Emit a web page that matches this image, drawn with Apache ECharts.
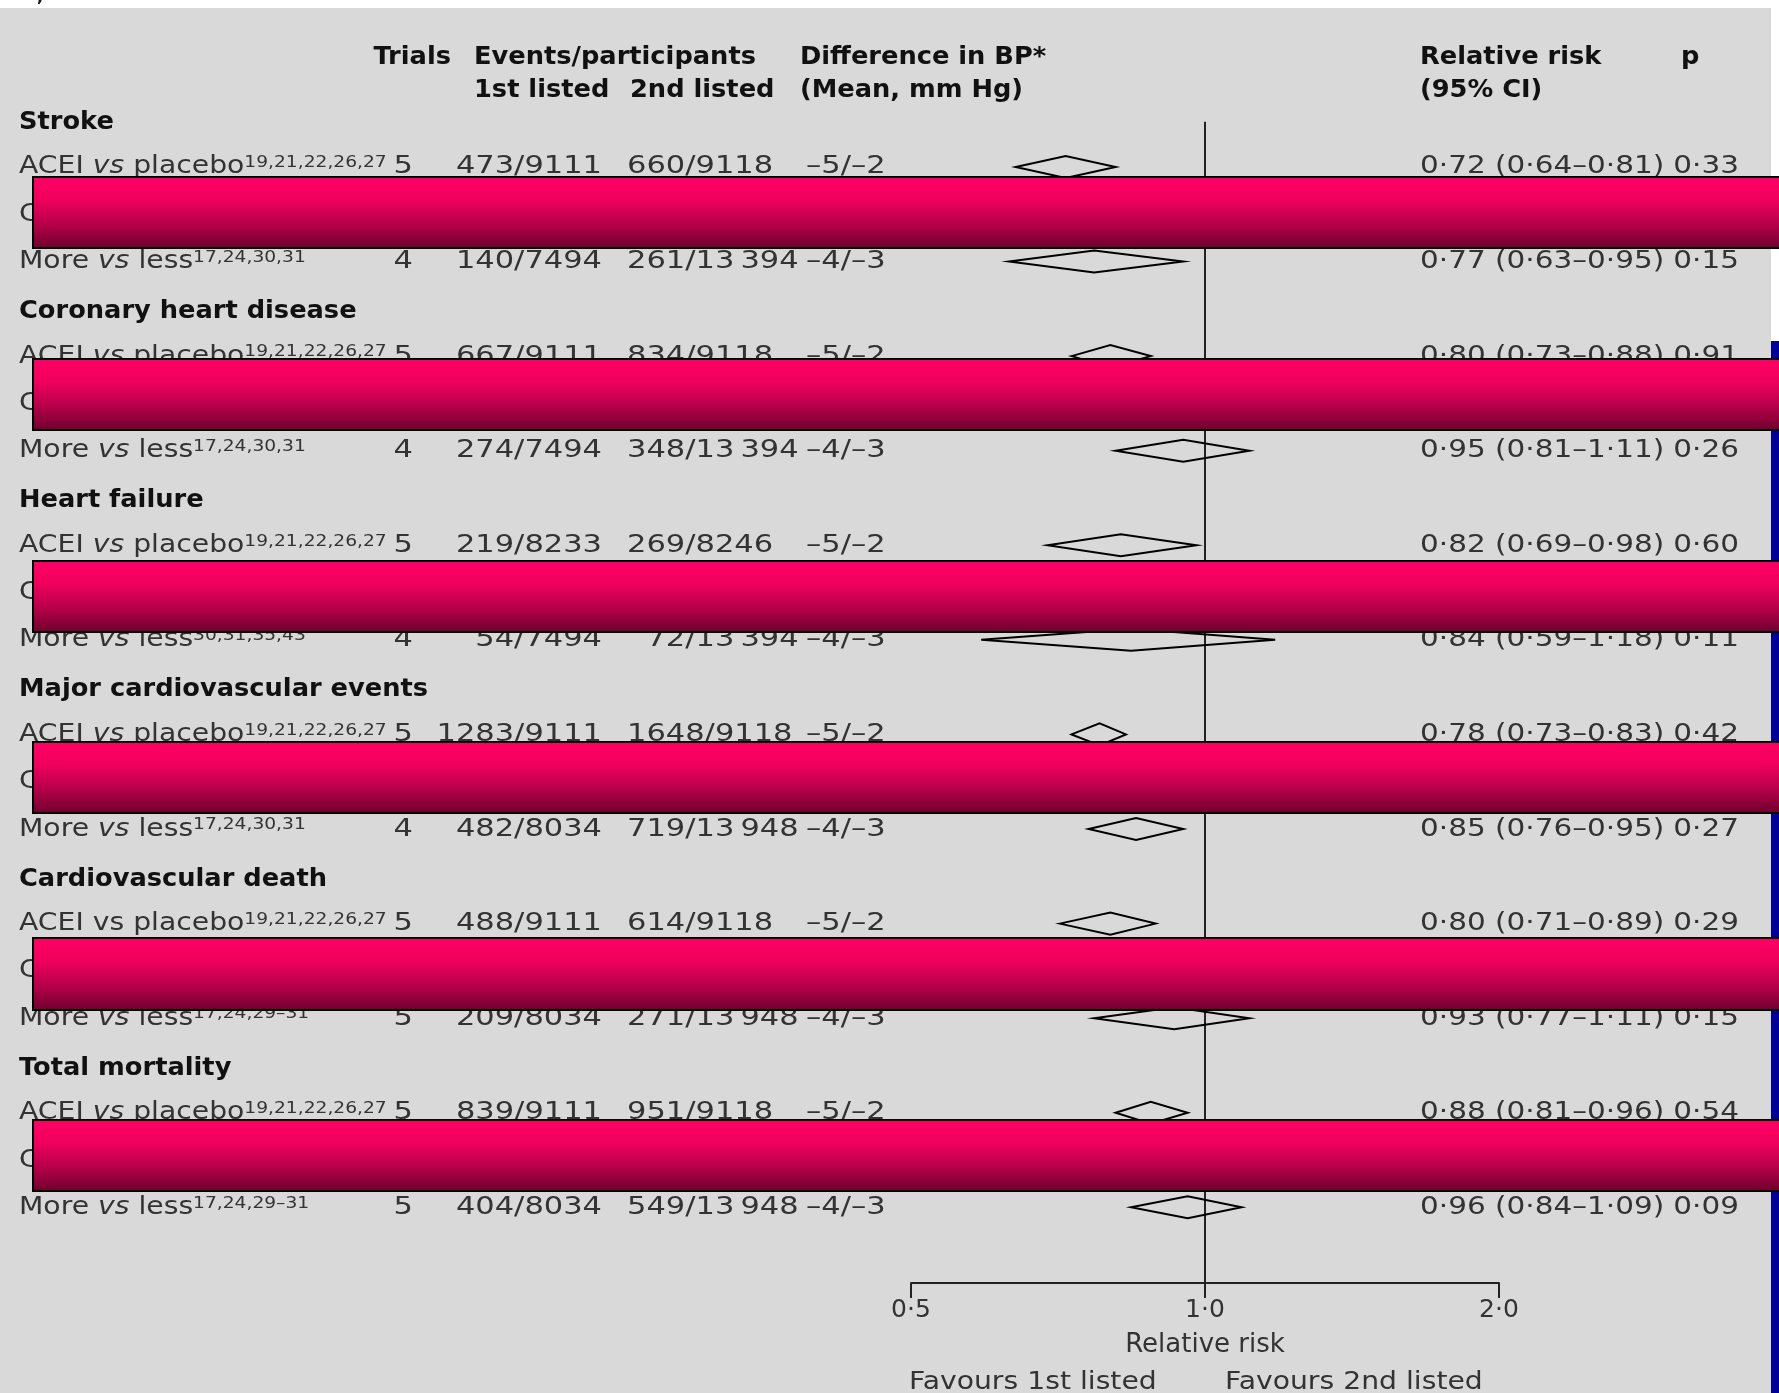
<!DOCTYPE html>
<html>
<head>
<meta charset="utf-8">
<script src="https://cdn.jsdelivr.net/npm/echarts@6/dist/echarts.min.js"></script>
<style>
html,body{margin:0;padding:0;background:#fff;}
#chart{width:1779px;height:1393px;}
</style>
</head>
<body>
<div id="chart"></div>
<script>
// ---------------- DATA ----------------
const outcomes = ['Stroke', 'Coronary heart disease', 'Heart failure', 'Major cardiovascular events', 'Cardiovascular death', 'Total mortality'];

const aceiLabel = ['ACEI', 'vs', ' placebo'];
const aceiVsItalic = [true, true, true, true, false, true];
const aceiRefs = ['19,21,22,26,27', '19,21,22,26,27', '19,21,22,26,27', '19,21,22,26,27', '19,21,22,26,27', '19,21,22,26,27'];
const aceiTrials = [5, 5, 5, 5, 5, 5];
const aceiEvents1 = ['473/9111', '667/9111', '219/8233', '1283/9111', '488/9111', '839/9111'];
const aceiEvents2 = ['660/9118', '834/9118', '269/8246', '1648/9118', '614/9118', '951/9118'];
const aceiBP = ['–5/–2', '–5/–2', '–5/–2', '–5/–2', '–5/–2', '–5/–2'];
const aceiRR = [0.72, 0.80, 0.82, 0.78, 0.80, 0.88];
const aceiLow = [0.64, 0.73, 0.69, 0.73, 0.71, 0.81];
const aceiHigh = [0.81, 0.88, 0.98, 0.83, 0.89, 0.96];
const aceiP = [0.33, 0.91, 0.60, 0.42, 0.29, 0.54];

const hiddenLabel = ['CA', 'vs', ' placebo'];

const moreLabel = ['More', 'vs', ' less'];
const moreRefs = ['17,24,30,31', '17,24,30,31', '30,31,35,43', '17,24,30,31', '17,24,29–31', '17,24,29–31'];
const moreTrials = [4, 4, 4, 4, 5, 5];
const moreEvents1 = ['140/7494', '274/7494', '54/7494', '482/8034', '209/8034', '404/8034'];
const moreEvents2 = ['261/13\u2009394', '348/13\u2009394', '\u200772/13\u2009394', '719/13\u2009948', '271/13\u2009948', '549/13\u2009948'];
const moreBP = ['–4/–3', '–4/–3', '–4/–3', '–4/–3', '–4/–3', '–4/–3'];
const moreRR = [0.77, 0.95, 0.84, 0.85, 0.93, 0.96];
const moreLow = [0.63, 0.81, 0.59, 0.76, 0.77, 0.84];
const moreHigh = [0.95, 1.11, 1.18, 0.95, 1.11, 1.09];
const moreP = [0.15, 0.26, 0.11, 0.27, 0.15, 0.09];

const headerLine1 = ['Trials', 'Events/participants', 'Difference in BP*', 'Relative risk', 'p'];
const headerLine2 = ['1st listed', '2nd listed', '(Mean, mm Hg)', '(95% CI)'];
const xTicks = [0.5, 1, 2];
const xAxisName = 'Relative risk';
const favours = ['Favours 1st listed', 'Favours 2nd listed'];

// ---------------- BUILD ROWS ----------------
const rows = [];
outcomes.forEach(function (o, g) {
  rows.push({ kind: 'head', label: o });
  rows.push({ kind: 'row', lab: aceiLabel, vsItalic: aceiVsItalic[g], refs: aceiRefs[g], trials: aceiTrials[g],
    ev1: aceiEvents1[g], ev2: aceiEvents2[g], bp: aceiBP[g], rr: aceiRR[g], lo: aceiLow[g], hi: aceiHigh[g], p: aceiP[g] });
  rows.push({ kind: 'hidden', lab: hiddenLabel, vsItalic: true, refs: '' });
  rows.push({ kind: 'row', lab: moreLabel, vsItalic: true, refs: moreRefs[g], trials: moreTrials[g],
    ev1: moreEvents1[g], ev2: moreEvents2[g], bp: moreBP[g], rr: moreRR[g], lo: moreLow[g], hi: moreHigh[g], p: moreP[g] });
});
const fmt = function (v) { return v.toFixed(2).replace('.', '·'); };
const tableData = rows.map(function (r, i) { return [1, i]; });
const diamondData = [];
rows.forEach(function (r, i) { if (r.rr) diamondData.push([r.rr, r.lo, r.hi, i]); });

// ---------------- LAYOUT / STYLE ----------------
const FONT = "'DejaVu Sans', sans-serif";
const TXT = '#333333';
const BOLD = '#111111';
const COL = { label: 19, trials: 413, ev1: 602, ev2: 627, bp: 806, ci: 1420, p: 1739 };
const SC = { label: 1.13, num: 1.22, ci: 1.18, bold: 1.07 };
const AXIS_OFFSET = 52;
const GRID = { left: 911, width: 588, top: 96, height: 1135 };

const RICH = {
  n: { fontSize: 25, lineHeight: 25, fontFamily: FONT, fill: TXT, color: TXT },
  i: { fontSize: 25, lineHeight: 25, fontFamily: FONT, fontStyle: 'italic', fill: TXT, color: TXT },
  s: { fontSize: 16.5, lineHeight: 17, fontFamily: FONT, fill: TXT, color: TXT, verticalAlign: 'top' }
};

function txt(x, y, text, align, scale, extra) {
  const st = { text: text, x: 0, y: 0, align: align, textAlign: align, verticalAlign: 'middle', textVerticalAlign: 'middle',
    fontSize: 25, fontFamily: FONT, fill: TXT };
  if (extra) Object.keys(extra).forEach(function (k) { st[k] = extra[k]; });
  return { type: 'text', x: x, y: y, scaleX: scale, style: st };
}

function richLabel(r) {
  let s = '{n|' + r.lab[0] + ' }{' + (r.vsItalic ? 'i' : 'n') + '|' + r.lab[1] + '}{n|' + r.lab[2] + '}';
  if (r.refs) s += '{s|' + r.refs + '}';
  return s;
}

function renderTable(params, api) {
  const idx = params.dataIndex;
  const r = rows[idx];
  const y = api.coord([1, idx])[1];
  const ch = [];
  if (r.kind === 'head') {
    ch.push(txt(COL.label, y + 3, r.label, 'left', SC.bold, { fontWeight: 'bold', fontSize: 24, fill: BOLD }));
  } else {
    ch.push({ type: 'text', x: COL.label, y: y, scaleX: SC.label,
      style: { text: richLabel(r), rich: RICH, x: 0, y: 0, align: 'left', textAlign: 'left', verticalAlign: 'middle', textVerticalAlign: 'middle',
        fontSize: 25, fontFamily: FONT, fill: TXT } });
    if (r.kind === 'row') {
      ch.push(txt(COL.trials, y, String(r.trials), 'right', SC.num));
      ch.push(txt(COL.ev1, y, r.ev1, 'right', SC.num));
      ch.push(txt(COL.ev2, y, r.ev2, 'left', SC.num));
      ch.push(txt(COL.bp, y, r.bp, 'left', SC.num));
      ch.push(txt(COL.ci, y, fmt(r.rr) + ' (' + fmt(r.lo) + '–' + fmt(r.hi) + ')', 'left', SC.ci));
      ch.push(txt(COL.p, y, fmt(r.p), 'right', SC.ci));
    }
  }
  return { type: 'group', children: ch };
}

function renderDiamond(params, api) {
  const row = api.value(3);
  const c = api.coord([api.value(0), row]);
  const l = api.coord([api.value(1), row]);
  const h = api.coord([api.value(2), row]);
  const hh = 11;
  return { type: 'polygon',
    shape: { points: [[l[0], c[1]], [c[0], c[1] - hh], [h[0], c[1]], [c[0], c[1] + hh]] },
    style: { fill: 'none', stroke: '#000', lineWidth: 2 } };
}

function renderRefLine(params, api) {
  const p = api.coord([api.value(0), api.value(1)]);
  const cs = params.coordSys;
  return { type: 'line', shape: { x1: p[0], y1: p[1] + 2, x2: p[0], y2: cs.y + cs.height + AXIS_OFFSET },
    style: { stroke: '#222', lineWidth: 2 } };
}

const pinkFill = { type: 'linear', x: 0, y: 0, x2: 0, y2: 1, colorStops: [
  { offset: 0, color: '#ff0066' }, { offset: 0.3, color: '#f2005d' }, { offset: 0.65, color: '#b8004a' }, { offset: 1, color: '#6c002c' } ] };
const redactBands = [[177, 248], [359, 430], [561, 632], [742, 813], [938, 1010], [1120, 1191]];

const graphics = [
  { type: 'rect', z: -100, silent: true, shape: { x: 0, y: 8, width: 1771, height: 1385 }, style: { fill: '#d9d9d9' } },
  { type: 'rect', z: -100, silent: true, shape: { x: 1771, y: 341, width: 8, height: 1052 }, style: { fill: '#000099' } },
  { type: 'text', z: 5, x: 37, y: -10, style: { text: ',', fontSize: 16, fontWeight: 'bold', fontFamily: FONT, fill: '#111' } }
];
function headerText(x, y, text, align) {
  graphics.push({ type: 'text', z: 5, x: x, y: y, scaleX: SC.bold,
    style: { text: text, x: 0, y: 0, align: align, textAlign: align, verticalAlign: 'middle', textVerticalAlign: 'middle',
      fontSize: 24, fontWeight: 'bold', fontFamily: FONT, fill: BOLD } });
}
const h1x = [[451, 'right'], [474, 'left'], [800, 'left'], [1420, 'left'], [1681, 'left']];
headerLine1.forEach(function (t, k) { headerText(h1x[k][0], 58, t, h1x[k][1]); });
const h2x = [474, 630, 800, 1420];
headerLine2.forEach(function (t, k) { headerText(h2x[k], 91, t, 'left'); });
const favX = [909, 1225];
favours.forEach(function (t, k) {
  graphics.push({ type: 'text', z: 5, x: favX[k], y: 1382, scaleX: SC.label,
    style: { text: t, x: 0, y: 0, align: 'left', textAlign: 'left', verticalAlign: 'middle', textVerticalAlign: 'middle',
      fontSize: 25, fontFamily: FONT, fill: TXT } });
});
redactBands.forEach(function (b) {
  graphics.push({ type: 'rect', z: 100, silent: true, shape: { x: 33, y: b[0], width: 1760, height: b[1] - b[0] },
    style: { fill: pinkFill, stroke: '#000', lineWidth: 2 } });
});

// ---------------- CHART ----------------
const chart = echarts.init(document.getElementById('chart'), null, { renderer: 'canvas' });
chart.setOption({
  backgroundColor: '#ffffff',
  animation: false,
  grid: { left: GRID.left, width: GRID.width, top: GRID.top, height: GRID.height, outerBoundsMode: 'none', containLabel: false },
  xAxis: {
    type: 'log', logBase: 2, min: xTicks[0], max: xTicks[xTicks.length - 1],
    position: 'bottom', offset: AXIS_OFFSET,
    axisLine: { show: true, lineStyle: { color: '#222', width: 2 } },
    axisTick: { show: true, inside: false, length: 15, lineStyle: { color: '#222', width: 2 } },
    axisLabel: { show: true, margin: 15, fontSize: 25, fontFamily: FONT, color: TXT,
      formatter: function (v) { return (Math.round(v * 10) / 10).toFixed(1).replace('.', '·'); } },
    splitLine: { show: false },
    minorTick: { show: false },
    name: xAxisName, nameLocation: 'middle', nameGap: 49,
    nameTextStyle: { fontSize: 26, fontFamily: FONT, color: TXT }
  },
  yAxis: {
    type: 'category', inverse: true, data: rows.map(function (r, i) { return r.label || (r.lab[0] + ' ' + r.lab[1] + r.lab[2]); }),
    show: false
  },
  graphic: graphics,
  series: [
    { type: 'custom', name: 'table', renderItem: renderTable, data: tableData, encode: { x: 0, y: 1 }, clip: false, z: 3, silent: true },
    { type: 'custom', name: 'reference', renderItem: renderRefLine, data: [[1, 0]], encode: { x: 0, y: 1 }, clip: false, z: 2, silent: true },
    { type: 'custom', name: 'relative risk', renderItem: renderDiamond, data: diamondData, encode: { x: [0, 1, 2], y: 3 }, clip: false, z: 4, silent: true }
  ]
});
</script>
</body>
</html>
